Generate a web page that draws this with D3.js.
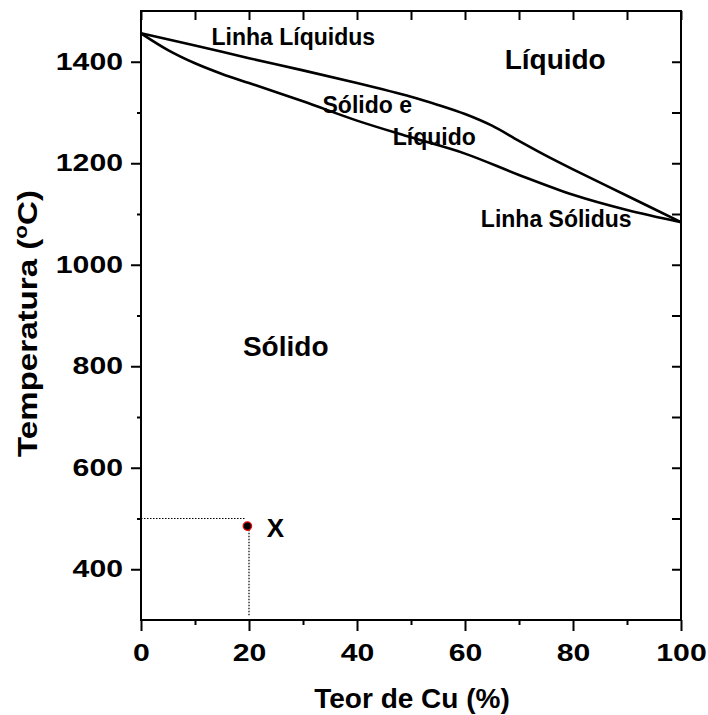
<!DOCTYPE html>
<html><head><meta charset="utf-8">
<script src="https://cdn.jsdelivr.net/npm/d3@7/dist/d3.min.js"></script>
<style>body{margin:0;background:#fff;}svg{display:block;font-family:"Liberation Sans",Arial,sans-serif;font-weight:bold;}</style>
</head><body>
<script>
const xTicks = [0, 20, 40, 60, 80, 100];
const yTicks = [400, 600, 800, 1000, 1200, 1400];
const liquidusX = [0, 10, 20, 30, 40, 50, 55, 60, 65, 70, 75, 80, 90, 100];
const liquidusT = [1456, 1432, 1407, 1383, 1358, 1331, 1315, 1297, 1274, 1244, 1215, 1188, 1136, 1084];
const solidusX = [0, 5, 10, 15, 20, 30, 40, 50, 60, 70, 80, 90, 100];
const solidusT = [1456, 1423, 1397, 1376, 1358, 1322, 1284, 1251, 1219, 1177, 1138, 1108, 1084];
const pointX = [19.7];
const pointT = [485];
const labels = [
  {text: "Linha Líquidus", x: 28.2, t: 1433, size: 23},
  {text: "Líquido", x: 76.7, t: 1386, size: 28},
  {text: "Sólido e", x: 41.9, t: 1299, size: 23},
  {text: "Líquido", x: 54.3, t: 1236, size: 23},
  {text: "Linha Sólidus", x: 76.9, t: 1074, size: 23},
  {text: "Sólido", x: 26.8, t: 820, size: 28},
  {text: "X", x: 24.9, t: 463, size: 26}
];

const W = 708, H = 715;
const m = {l: 141, r: 681, t: 11, b: 620};
const svg = d3.select("body").append("svg").attr("width", W).attr("height", H);
const x = d3.scaleLinear().domain([0, 100]).range([m.l, m.r]);
const y = d3.scaleLinear().domain([300, 1500]).range([m.b, m.t]);

const g = svg.append("g");
g.append("g").attr("transform", `translate(0,${m.b})`)
  .call(d3.axisBottom(x).tickValues(xTicks).tickSize(11).tickPadding(13).tickFormat(d3.format("d")));
g.append("g").attr("transform", `translate(0,${m.b})`)
  .call(d3.axisBottom(x).tickValues(d3.range(10, 100, 20)).tickSize(5).tickFormat(""));
g.append("g").attr("transform", `translate(${m.l},0)`)
  .call(d3.axisLeft(y).tickValues(yTicks).tickSize(10).tickPadding(8).tickFormat(d3.format("d")));
g.append("g").attr("transform", `translate(${m.l},0)`)
  .call(d3.axisLeft(y).tickValues(d3.range(500, 1500, 200)).tickSize(4).tickFormat(""));
g.append("g").attr("transform", `translate(0,${m.t})`)
  .call(d3.axisBottom(x).tickValues(d3.range(0, 101, 10)).tickSize(9).tickFormat(""));
g.append("g").attr("transform", `translate(${m.r},0)`)
  .call(d3.axisLeft(y).tickValues(d3.range(400, 1500, 100)).tickSize(9).tickFormat(""));
g.selectAll(".domain").remove();
g.selectAll("line").attr("stroke", "#000").attr("stroke-width", 2);
g.selectAll("text").attr("font-size", 24).attr("font-weight", "bold").attr("fill", "#000")
  .attr("font-family", '"Liberation Sans",Arial,sans-serif')
  .attr("textLength", function() { return this.textContent.length * 16.8; })
  .attr("lengthAdjust", "spacingAndGlyphs");
svg.append("rect").attr("x", m.l).attr("y", m.t).attr("width", m.r - m.l).attr("height", m.b - m.t)
  .attr("fill", "none").attr("stroke", "#000").attr("stroke-width", 2);

const line = d3.line().curve(d3.curveCatmullRom.alpha(0.5));
svg.append("path").attr("d", line(liquidusX.map((v, i) => [x(v), y(liquidusT[i])])))
  .attr("fill", "none").attr("stroke", "#000").attr("stroke-width", 2.6);
svg.append("path").attr("d", line(solidusX.map((v, i) => [x(v), y(solidusT[i])])))
  .attr("fill", "none").attr("stroke", "#000").attr("stroke-width", 2.6);

svg.append("line").attr("x1", x(0)).attr("x2", x(19.3)).attr("y1", y(500)).attr("y2", y(500))
  .attr("stroke", "#000").attr("stroke-width", 1.2).attr("stroke-dasharray", "1.5,1.5");
svg.append("line").attr("x1", x(20)).attr("x2", x(20)).attr("y1", y(478)).attr("y2", y(309))
  .attr("stroke", "#000").attr("stroke-width", 1.2).attr("stroke-dasharray", "1.5,1.5");
svg.selectAll("circle.pt").data(pointX).enter().append("circle")
  .attr("cx", d => x(d)).attr("cy", (d, i) => y(pointT[i])).attr("r", 4.2)
  .attr("fill", "#000").attr("stroke", "#e00").attr("stroke-width", 1.3);

svg.selectAll("text.lab").data(labels).enter().append("text")
  .attr("x", d => x(d.x)).attr("y", d => y(d.t)).attr("text-anchor", "middle")
  .attr("font-size", d => d.size).text(d => d.text);

svg.append("text").attr("x", 412).attr("y", 708).attr("text-anchor", "middle")
  .attr("font-size", 28).text("Teor de Cu (%)");
const yl = svg.append("text").attr("text-anchor", "middle").attr("font-size", 28);
yl.append("tspan").text("Temperatura (");
yl.append("tspan").attr("font-size", 19).attr("dy", -10).text("o");
yl.append("tspan").attr("dy", 10).text("C)");
const wy = yl.node().getBBox().width;
yl.attr("transform", `translate(37,323.5) rotate(-90) scale(${267 / wy},1)`);
</script>
</body></html>
